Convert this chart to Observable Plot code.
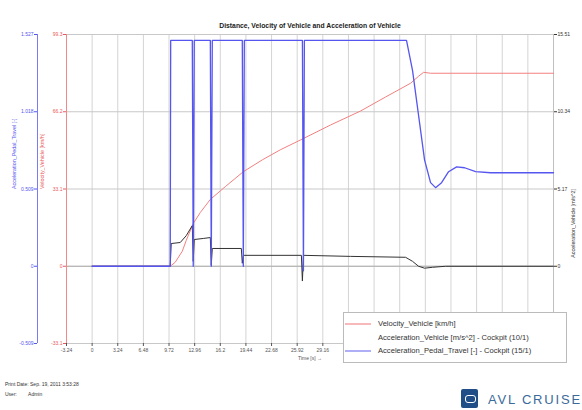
<!DOCTYPE html>
<html><head><meta charset="utf-8">
<script src="https://cdn.jsdelivr.net/npm/d3@7"></script>
<script src="https://cdn.jsdelivr.net/npm/@observablehq/plot@0.6"></script>
<style>
body{margin:0;background:#fff;font-family:"Liberation Sans",Arial,sans-serif;}
#wrap{position:relative;width:582px;height:410px;overflow:hidden;}
#title{position:absolute;left:0;width:620px;top:22px;text-align:center;font-size:6.8px;font-weight:bold;color:#222;}
#legend{position:absolute;left:343px;top:312px;width:222px;height:49px;border:1px solid #bbb;background:#fff;font-size:7.6px;color:#333;}
.li{position:absolute;left:34px;white-space:nowrap;}
#foot1,#foot2{position:absolute;left:5px;font-size:5px;color:#333;}
#logo{position:absolute;left:488px;top:392px;font-size:13px;letter-spacing:1.8px;color:#3a6a9a;}
#icon{position:absolute;left:461px;top:389px;width:17px;height:19px;background:#1f4f86;border-radius:2px;}
#icon2{position:absolute;left:465px;top:395px;width:9px;height:6px;border:1.5px solid #fff;border-radius:3px;}
</style></head>
<body><div id="wrap"><div id="chart"></div>
<div id="title">Distance, Velocity of Vehicle and Acceleration of Vehicle</div>
<div id="legend">
<svg width="222" height="49" style="position:absolute;left:0;top:0">
<line x1="1" x2="27" y1="11" y2="11" stroke="#f28a8a" stroke-width="1.2"/>
<line x1="1" x2="27" y1="38" y2="38" stroke="#7a7af2" stroke-width="1.2"/>
</svg>
<div class="li" style="top:6px">Velocity_Vehicle [km/h]</div>
<div class="li" style="top:20px">Acceleration_Vehicle [m/s^2] - Cockpit (10/1)</div>
<div class="li" style="top:33px">Acceleration_Pedal_Travel [-] - Cockpit (15/1)</div>
</div>
<div id="foot1" style="top:381px">Print Date: Sep. 19, 2011 3:53:28</div>
<div id="foot2" style="top:391px">User: &nbsp;&nbsp;&nbsp;&nbsp;&nbsp;&nbsp;&nbsp;Admin</div>
<div id="icon"></div><div id="icon2"></div>
<div id="logo">AVL CRUISE</div>
</div>
<script>
// Time axis (grid every 3.24 s; labels to the right are hidden behind the legend)
const xTicks = [-3.24,0,3.24,6.48,9.72,12.96,16.2,19.44,22.68,25.92,29.16,32.4,35.64,38.88,42.12,45.36,48.6,51.84,55.08,58.32];
const xLabelTicks = [-3.24,0,3.24,6.48,9.72,12.96,16.2,19.44,22.68,25.92,29.16];
const xLabels = ["-3.24","0","3.24","6.48","9.72","12.96","16.2","19.44","22.68","25.92","29.16"];
// Axes tick values / labels
const velTicks = [-33.1,0,33.1,66.2,99.3];
const velLabels = ["-33.1","0","33.1","66.2","99.3"];
const pedTicks = [-0.509,0,0.509,1.018,1.527];
const pedLabels = ["-0.509","0","0.509","1.018","1.527"];
const accTicks = [-5.17,0,5.17,10.34,15.51];
const accLabels = ["","0","5.17","10.34","15.51"];

// Velocity_Vehicle [km/h]
const velTime = [0,9.87,10.5,11.39,11.9,12.78,13.67,14.93,16.83,19.11,21.52,23.79,26.33,30.12,33.92,37.08,40.25,41.26,41.9,42.78,58.32];
const velValue = [0,0,1.7,6.4,11.1,18.3,23.0,28.6,34.1,40.5,45.6,49.9,54.1,60.5,66.5,72.5,78.4,81.4,83.1,82.7,82.7];
// Acceleration_Vehicle [m/s^2]
const accTime = [0,9.87,10.0,11.14,11.9,12.66,12.78,12.91,14.05,14.94,15.06,15.19,18.86,18.98,19.11,26.45,26.58,26.71,32.65,39.62,40.5,41.26,42.02,43.03,44.68,58.32];
const accValue = [0,0,1.52,1.59,2.05,2.72,0.33,1.79,1.86,1.92,0.07,1.19,1.19,0.2,0.73,0.73,-0.99,0.73,0.66,0.6,0.33,0,-0.13,-0.07,0,0];
// Acceleration_Pedal_Travel [-]
const pedTime = [0,9.87,9.93,12.66,12.78,12.91,14.94,15.06,15.19,18.98,19.11,19.24,26.58,26.71,26.83,39.74,40.5,41.26,42.02,42.78,43.41,44.17,45.06,46.07,47.08,48.48,50.37,58.32];
const pedValue = [0,0,1.488,1.488,0,1.488,1.488,0,1.488,1.488,0,1.488,1.488,-0.03,1.488,1.488,1.291,0.996,0.701,0.551,0.518,0.551,0.623,0.655,0.649,0.623,0.616,0.616];

const kPed = velTicks[2]/pedTicks[2];
const kAcc = velTicks[2]/accTicks[2];
const vel = velTime.map((t,i)=>({t, y: velValue[i]}));
const acc = accTime.map((t,i)=>({t, y: accValue[i]*kAcc}));
const ped = pedTime.map((t,i)=>({t, y: pedValue[i]*kPed}));

const RED="#e85a5a", BLUE="#5555f0";
const fs = 5;
const chart = Plot.plot({
  width:582, height:410,
  marginLeft:66, marginRight:29, marginTop:34, marginBottom:67,
  style:{fontFamily:"Liberation Sans, Arial, sans-serif", background:"transparent"},
  x:{domain:[xTicks[0], xTicks[xTicks.length-1]]},
  y:{domain:[velTicks[0], velTicks[velTicks.length-1]]},
  marks:[
    Plot.gridX(xTicks,{stroke:"#d4d4d4", strokeOpacity:1}),
    Plot.gridY(velTicks,{stroke:"#c8c8c8", strokeOpacity:1}),
    Plot.ruleY([0],{stroke:"#b0b0b0"}),
    Plot.ruleX([xTicks[xTicks.length-1]],{stroke:"#c0c0c0"}),
    Plot.line(vel,{x:"t", y:"y", stroke:"#f28080", strokeWidth:1}),
    Plot.line(acc,{x:"t", y:"y", stroke:"#333", strokeWidth:1}),
    Plot.line(ped,{x:"t", y:"y", stroke:BLUE, strokeWidth:1.3}),
    Plot.ruleX([xTicks[0]],{stroke:"#f08a8a", strokeWidth:1}),
    Plot.ruleX([xTicks[0]],{stroke:"#7a7af5", strokeWidth:1, dx:-29}),
    Plot.axisX(xLabelTicks,{tickFormat:d=>xLabels[xLabelTicks.indexOf(d)], fontSize:fs, color:"#555", tickSize:3, tickPadding:2, label:"Time [s]", labelAnchor:"center", labelOffset:16}),
    Plot.axisY(velTicks,{anchor:"left", tickFormat:d=>velLabels[velTicks.indexOf(d)], fontSize:fs, color:RED, tickSize:3, tickPadding:1, label:null}),
    Plot.axisY(velTicks,{anchor:"left", tickFormat:d=>pedLabels[velTicks.indexOf(d)], fontSize:fs, color:BLUE, tickSize:3, tickPadding:1, dx:-29, label:null}),
    Plot.axisY(velTicks,{anchor:"right", tickFormat:d=>accLabels[velTicks.indexOf(d)], fontSize:fs, color:"#333", tickSize:3, tickPadding:1, label:null}),
    Plot.text(["Velocity_Vehicle [km/h]"],{frameAnchor:"left", dx:-24, rotate:-90, fill:RED, fontSize:5.4}),
    Plot.text(["Acceleration_Pedal_Travel [-]"],{frameAnchor:"left", dx:-52, rotate:-90, fill:BLUE, fontSize:5.4}),
    Plot.text(["Acceleration_Vehicle [m/s^2]"],{frameAnchor:"right", dx:20, rotate:-90, fill:"#333", fontSize:5.4})
  ]
});
document.getElementById("chart").appendChild(chart);
</script>
</body></html>
